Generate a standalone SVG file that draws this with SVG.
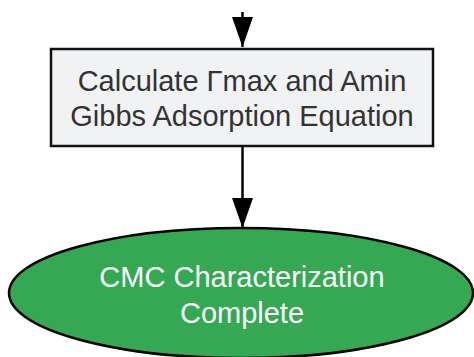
<svg xmlns="http://www.w3.org/2000/svg" width="474" height="357" viewBox="0 0 474 357">
<defs>
<marker id="ah" markerWidth="31" markerHeight="22" refX="30" refY="10.5" orient="auto" markerUnits="userSpaceOnUse">
<path d="M0,0 L30,10.5 L0,21 Z" fill="#000"/>
</marker>
<style>
.lbl{font-family:"Liberation Sans",Arial,sans-serif;font-size:29px;text-anchor:middle}
.edge{stroke:#000;stroke-width:2.5;fill:none}
</style>
</defs>
<rect width="474" height="357" fill="#fff"/>
<g id="connectors">
<path class="edge" d="M242.5,12 L242.5,47" marker-end="url(#ah)"/>
<path class="edge" d="M242.5,146 L242.5,228" marker-end="url(#ah)"/>
</g>
<g id="calc">
<rect x="51" y="49" width="382" height="97" fill="#f1f2f4" stroke="#111" stroke-width="2.5"/>
<text class="lbl" x="242" y="90.5" fill="#333">Calculate Γmax and Amin</text>
<text class="lbl" x="242" y="126" fill="#333">Gibbs Adsorption Equation</text>
</g>
<g id="complete">
<ellipse cx="241" cy="293" rx="232" ry="65" fill="#34a853" stroke="#000" stroke-width="2.5"/>
<text class="lbl" x="242" y="287" fill="#fff">CMC Characterization</text>
<text class="lbl" x="242" y="323" fill="#fff">Complete</text>
</g>
</svg>
